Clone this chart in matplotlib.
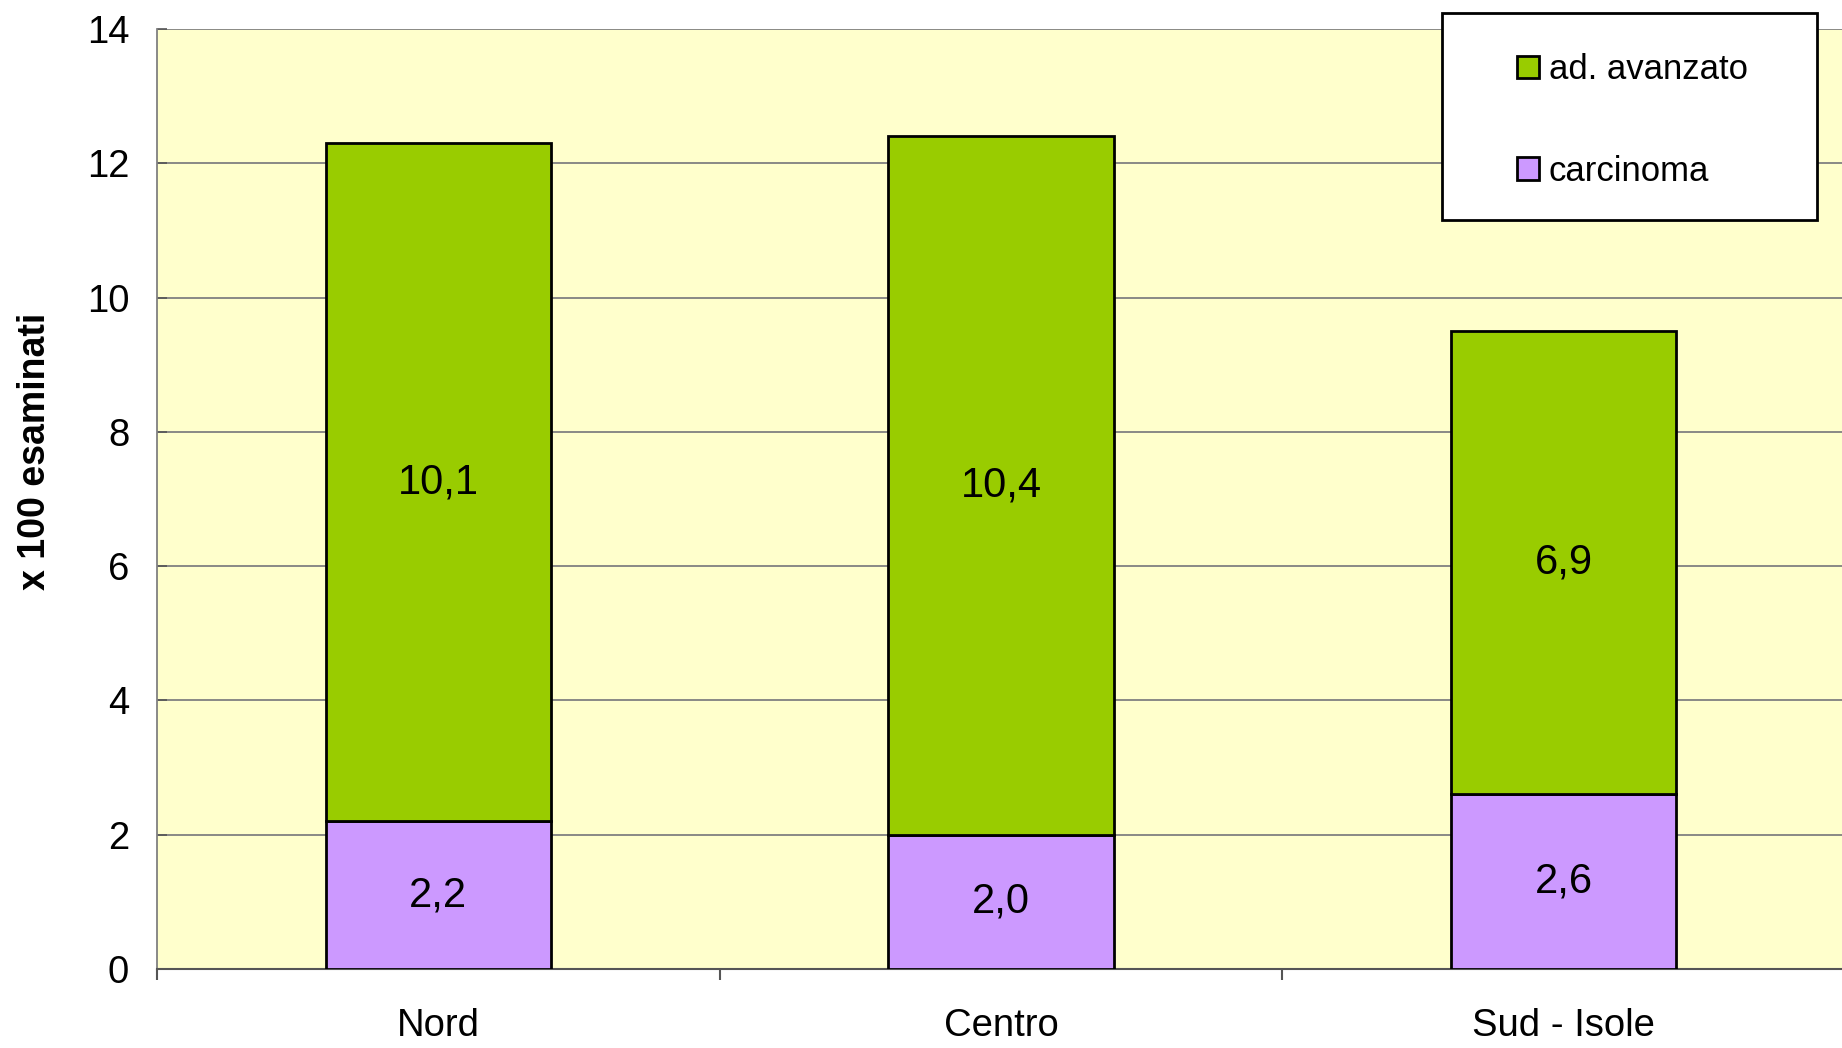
import numpy as np
import matplotlib.pyplot as plt
from matplotlib.patches import Rectangle

plt.rcParams['font.family'] = ['Liberation Sans', 'DejaVu Sans']

# Dati
aree = ['Nord', 'Centro', 'Sud - Isole']
carcinoma = [2.2, 2.0, 2.6]
ad_avanzato = [10.1, 10.4, 6.9]

col_verde = '#99CC00'
col_viola = '#CC99FF'

fig = plt.figure(figsize=(18.42, 10.48), dpi=100)
ax = fig.add_axes([157 / 1842, 79 / 1048, 1688 / 1842, 940 / 1048])
ax.set_facecolor('#FFFFCC')

x = np.arange(len(aree))
b1 = ax.bar(x, carcinoma, width=0.4, color=col_viola, edgecolor='black',
            linewidth=2, label='carcinoma', zorder=3)
b2 = ax.bar(x, ad_avanzato, width=0.4, bottom=carcinoma, color=col_verde,
            edgecolor='black', linewidth=2, label='ad. avanzato', zorder=3)

for i in range(len(aree)):
    ax.text(x[i], carcinoma[i] / 2, f'{carcinoma[i]:.1f}'.replace('.', ','),
            ha='center', va='center', fontsize=30, zorder=4)
    ax.text(x[i], carcinoma[i] + ad_avanzato[i] / 2,
            f'{ad_avanzato[i]:.1f}'.replace('.', ','),
            ha='center', va='center', fontsize=30, zorder=4)

ax.set_xlim(-0.5, len(aree) - 0.5)
ax.set_ylim(0, 14)
ax.set_yticks(np.arange(0, 15, 2))
ax.set_xticks(x)
ax.set_xticklabels(aree)
ax.set_xticks(np.arange(-0.5, len(aree), 1), minor=True)
ax.tick_params(axis='y', direction='in', length=7, width=1.2, color='#555555',
               labelsize=27.5, pad=20)
ax.tick_params(axis='x', which='major', length=0, labelsize=27.5, pad=28)
ax.tick_params(axis='x', which='minor', direction='out', length=8, width=1.5,
               color='#555555')

ax.grid(axis='y', color='#808080', linewidth=1.3, zorder=1)
ax.set_axisbelow(True)
for s in ['top', 'right']:
    ax.spines[s].set_visible(False)
ax.spines['left'].set_color('#808080')
ax.spines['left'].set_linewidth(1.3)
ax.spines['bottom'].set_color('#555555')
ax.spines['bottom'].set_linewidth(1.5)

fig.text(35 / 1842, 1 - 451 / 1048, 'x 100 esaminati', rotation=90,
         ha='center', va='center', fontsize=27, fontweight='bold')

# Legenda
box = Rectangle((1441.7 / 1842, 1 - 220 / 1048), 375 / 1842, 207.3 / 1048,
                transform=fig.transFigure, facecolor='white',
                edgecolor='black', linewidth=2, zorder=4)
fig.patches.append(box)
leg = fig.legend([b2, b1], ['ad. avanzato', 'carcinoma'], loc='center left',
                 bbox_to_anchor=(1516.7 / 1842, 1 - 120.5 / 1048),
                 frameon=False, fontsize=25, handlelength=0.63,
                 handleheight=0.63, handletextpad=0.3, labelspacing=1.98,
                 borderpad=0, borderaxespad=0)
leg.set_zorder(5)

fig.savefig('out.png', dpi=100)
